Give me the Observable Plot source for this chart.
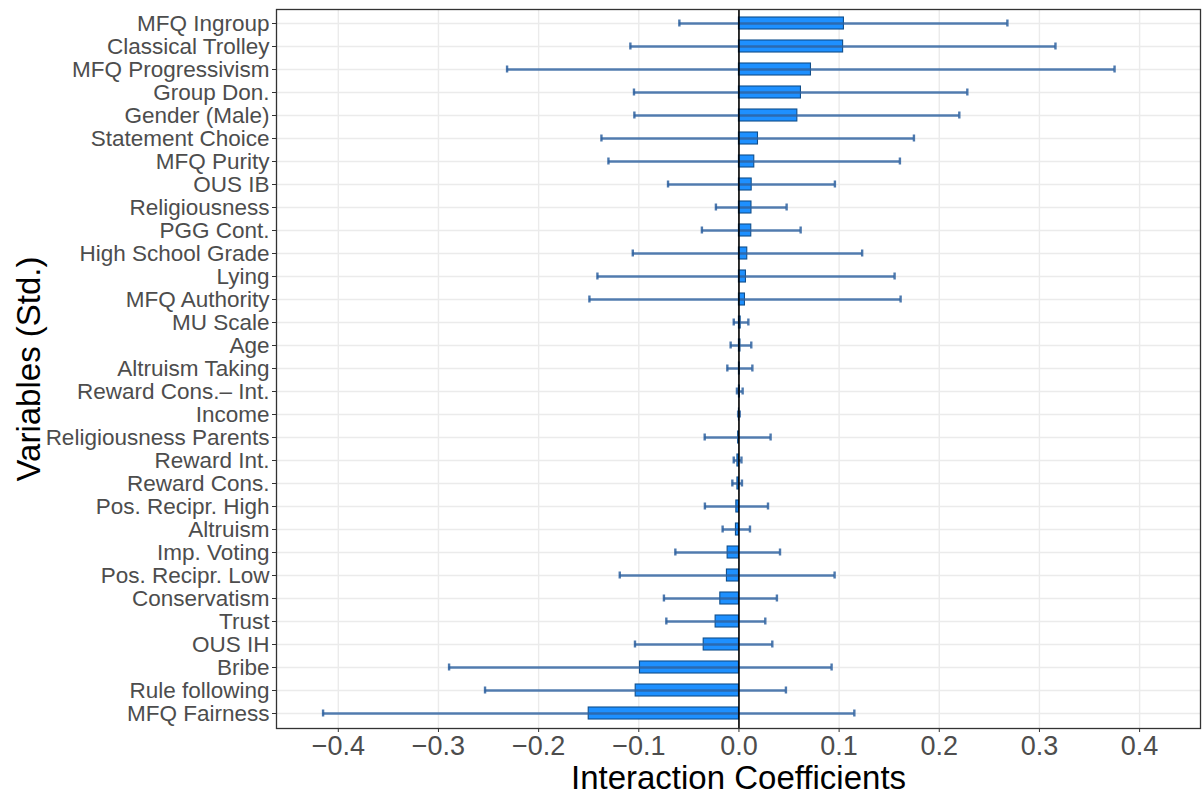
<!DOCTYPE html>
<html>
<head>
<meta charset="utf-8">
<script src="https://cdn.jsdelivr.net/npm/d3@7"></script>
<script src="https://cdn.jsdelivr.net/npm/@observablehq/plot@0.6"></script>
<style>
  html, body { margin: 0; padding: 0; background: white; }
</style>
</head>
<body>
<div id="chart"></div>
<script>
const names = [
  "MFQ Ingroup", "Classical Trolley", "MFQ Progressivism", "Group Don.", "Gender (Male)",
  "Statement Choice", "MFQ Purity", "OUS IB", "Religiousness", "PGG Cont.",
  "High School Grade", "Lying", "MFQ Authority", "MU Scale", "Age",
  "Altruism Taking", "Reward Cons.\u2013 Int.", "Income", "Religiousness Parents", "Reward Int.",
  "Reward Cons.", "Pos. Recipr. High", "Altruism", "Imp. Voting", "Pos. Recipr. Low",
  "Conservatism", "Trust", "OUS IH", "Bribe", "Rule following", "MFQ Fairness"
];
const estimates = [
  0.1048, 0.1040, 0.0719, 0.0619, 0.0583,
  0.0190, 0.0153, 0.0127, 0.0125, 0.0123,
  0.0083, 0.0070, 0.0060, 0.0017, 0.0015,
  0.0008, 0.0010, 0.0002, -0.0008, -0.0015,
  -0.0015, -0.0026, -0.0030, -0.0113, -0.0120,
  -0.0186, -0.0233, -0.0352, -0.0988, -0.1031, -0.1500
];
const lowers = [
  -0.0595, -0.1084, -0.2315, -0.1048, -0.1044,
  -0.1373, -0.1303, -0.0708, -0.0230, -0.0370,
  -0.1060, -0.1413, -0.1493, -0.0052, -0.0083,
  -0.0116, -0.0020, -0.0008, -0.0342, -0.0052,
  -0.0066, -0.0340, -0.0163, -0.0635, -0.1190,
  -0.0749, -0.0725, -0.1038, -0.2894, -0.2535, -0.4152
];
const uppers = [
  0.2680, 0.3160, 0.3750, 0.2280, 0.2200,
  0.1747, 0.1607, 0.0958, 0.0476, 0.0616,
  0.1230, 0.1554, 0.1614, 0.0094, 0.0123,
  0.0134, 0.0037, 0.0008, 0.0316, 0.0025,
  0.0030, 0.0290, 0.0110, 0.0410, 0.0955,
  0.0379, 0.0263, 0.0333, 0.0925, 0.0469, 0.1152
];
const xTicks = [-0.4, -0.3, -0.2, -0.1, 0, 0.1, 0.2, 0.3, 0.4];

const data = names.map((name, i) => ({name, est: estimates[i], lo: lowers[i], hi: uppers[i]}));
const errColor = "#2e62a0";
const fmt = d => d.toFixed(1).replace("-", "\u2212");

const chart = Plot.plot({
  width: 1203,
  height: 796,
  marginTop: 9,
  marginLeft: 276,
  marginRight: 3,
  marginBottom: 68,
  style: {fontFamily: "'Liberation Sans', Arial, sans-serif", background: "white", color: "#4d4d4d"},
  x: {domain: [-0.4617, 0.4608]},
  y: {domain: names, paddingInner: 0.47, paddingOuter: 0.335},
  marks: [
    Plot.gridX(xTicks, {stroke: "#ebebeb", strokeOpacity: 1, strokeWidth: 1.4}),
    Plot.gridY({stroke: "#ebebeb", strokeOpacity: 1, strokeWidth: 1.4}),
    Plot.barX(data, {x1: d => 0, x2: "est", y: "name", fill: "#1E90FF", stroke: "#104E8B", strokeWidth: 1.1}),
    Plot.ruleY(data, {y: "name", x1: "lo", x2: "hi", stroke: errColor, strokeOpacity: 0.82, strokeWidth: 2.5}),
    Plot.tickX(data, {x: "lo", y: "name", insetTop: 2.5, insetBottom: 2.5, stroke: errColor, strokeOpacity: 0.85, strokeWidth: 2.4}),
    Plot.tickX(data, {x: "hi", y: "name", insetTop: 2.5, insetBottom: 2.5, stroke: errColor, strokeOpacity: 0.85, strokeWidth: 2.4}),
    Plot.ruleX([0], {stroke: "black", strokeWidth: 1.6}),
    Plot.frame({stroke: "#333333", strokeWidth: 1.3}),
    Plot.axisX(xTicks, {tickSize: 4, tickPadding: 3, fontSize: 27, fill: "#4d4d4d", stroke: "#333333", label: null, tickFormat: fmt}),
    Plot.axisY({tickSize: 4, tickPadding: 3, fontSize: 22.5, fill: "#4d4d4d", stroke: "#333333", label: null}),
    Plot.text(["Interaction Coefficients"], {frameAnchor: "bottom", lineAnchor: "bottom", dy: 60, fontSize: 33, fill: "black"}),
    Plot.text(["Variables (Std.)"], {frameAnchor: "left", textAnchor: "middle", lineAnchor: "middle", rotate: -90, dx: -247, fontSize: 33, fill: "black"})
  ]
});
document.getElementById("chart").appendChild(chart);
</script>
</body>
</html>
